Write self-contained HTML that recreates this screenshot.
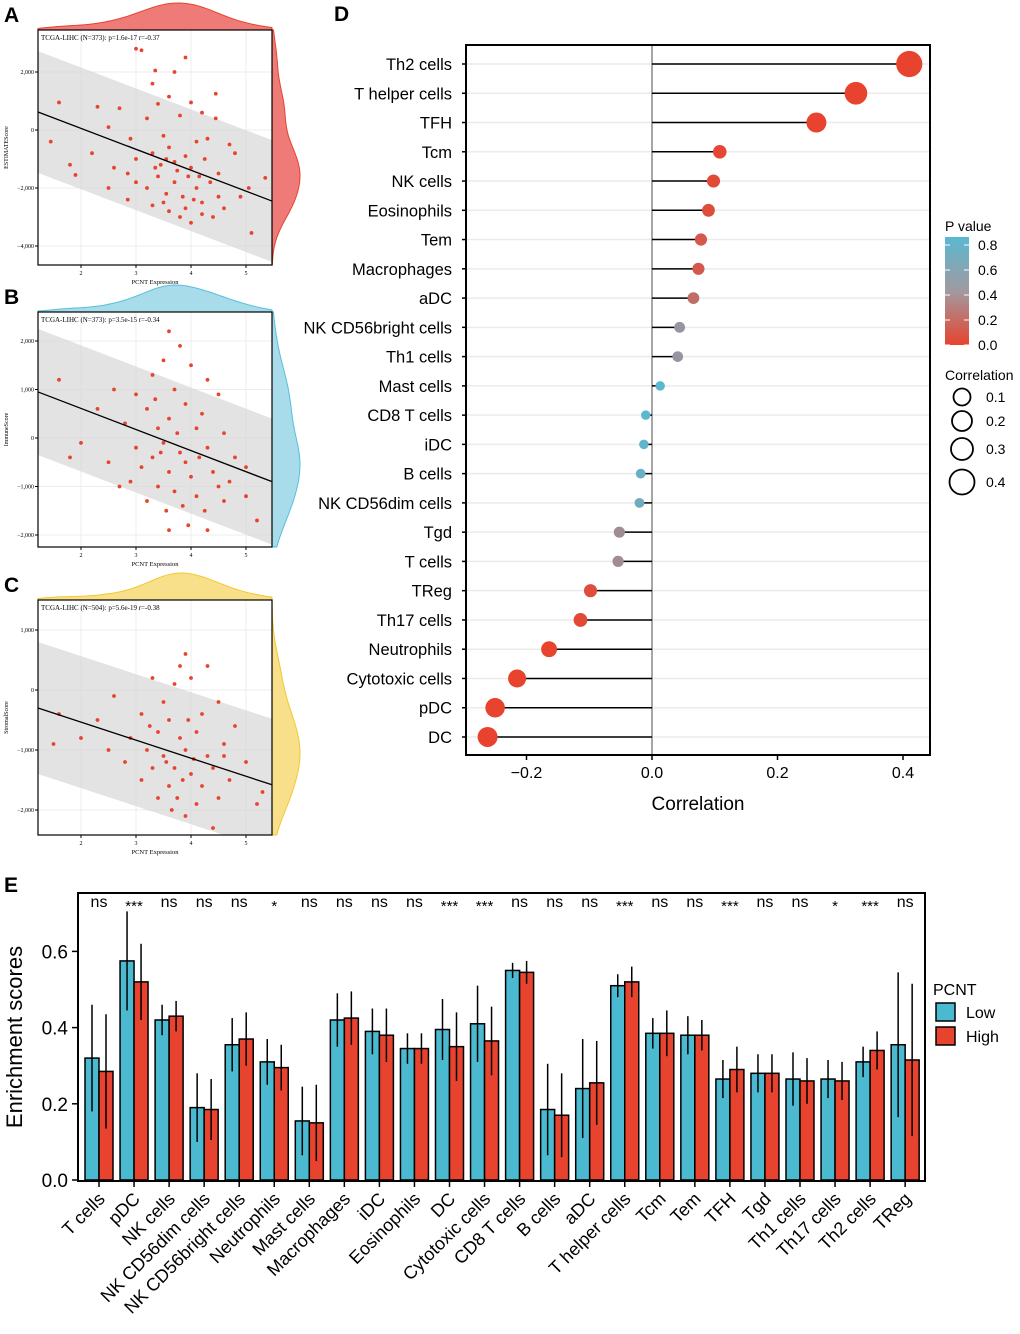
<!DOCTYPE html>
<html><head><meta charset="utf-8"><style>
body{margin:0;background:#fff}
svg{display:block;font-family:"Liberation Sans",Arial,sans-serif}
</style></head><body>
<svg id="s" width="1020" height="1334" viewBox="0 0 1020 1334"></svg>
<script>
// ---------- Data ----------
const scatterA=[[3.0,2.8],[3.1,2.75],[3.9,2.5],[3.35,2.05],[3.7,2.0],[3.3,1.6],[4.45,1.25],[3.6,1.15],[4.0,0.95],[3.4,0.9],[1.6,0.95],[2.3,0.8],[2.7,0.75],[3.2,0.4],[3.8,0.5],[4.2,0.6],[4.45,0.4],[2.5,0.1],[2.9,-0.3],[3.5,-0.2],[3.6,-0.6],[4.1,-0.4],[4.3,-0.3],[4.7,-0.5],[1.45,-0.4],[2.2,-0.8],[2.6,-1.3],[3.0,-1.0],[3.3,-0.8],[3.45,-1.2],[3.7,-1.1],[3.9,-0.9],[4.0,-1.3],[4.25,-1.0],[4.5,-1.5],[4.8,-0.8],[1.8,-1.2],[1.9,-1.55],[2.5,-2.0],[2.85,-1.5],[3.0,-1.8],[3.2,-2.0],[3.4,-1.6],[3.55,-2.2],[3.7,-1.8],[3.85,-2.3],[3.95,-1.6],[4.1,-2.0],[4.2,-2.5],[4.35,-1.8],[4.5,-2.3],[4.6,-2.7],[4.9,-2.3],[5.05,-2.0],[5.35,-1.65],[2.85,-2.4],[3.3,-2.6],[3.6,-2.8],[3.8,-3.0],[4.0,-3.2],[4.2,-2.9],[4.4,-3.0],[5.1,-3.55],[3.5,-2.5],[3.9,-2.7],[4.05,-2.4],[3.75,-1.4],[3.55,-1.0],[4.15,-1.6],[3.35,-1.3]];
const scatterB=[[3.6,2.2],[3.8,1.9],[3.5,1.6],[4.0,1.5],[3.3,1.3],[1.6,1.2],[4.3,1.2],[2.6,1.0],[3.0,0.9],[3.7,1.0],[4.5,0.9],[2.3,0.6],[3.2,0.6],[3.9,0.7],[4.2,0.5],[2.8,0.3],[3.4,0.2],[3.6,0.4],[4.1,0.2],[4.6,0.1],[2.0,-0.1],[3.0,-0.2],[3.5,-0.1],[3.8,-0.3],[4.3,-0.2],[4.8,-0.4],[1.8,-0.4],[2.5,-0.5],[3.1,-0.6],[3.3,-0.4],[3.6,-0.7],[3.9,-0.5],[4.0,-0.8],[4.4,-0.7],[4.7,-0.9],[2.9,-0.9],[3.4,-1.0],[3.7,-1.1],[4.1,-1.2],[4.5,-1.0],[5.0,-0.6],[3.2,-1.3],[3.55,-1.5],[3.85,-1.4],[4.25,-1.5],[3.95,-1.8],[4.6,-1.3],[5.2,-1.7],[3.6,-1.9],[4.3,-1.9],[5.0,-1.2],[3.75,0.1],[3.45,-0.3],[4.15,-0.4],[3.35,0.8],[2.7,-1.0]];
const scatterC=[[3.9,0.6],[3.8,0.4],[4.3,0.4],[3.3,0.2],[3.7,0.1],[4.0,0.2],[2.6,-0.1],[3.5,-0.2],[4.5,-0.2],[1.6,-0.4],[2.3,-0.5],[3.1,-0.4],[3.6,-0.5],[4.2,-0.4],[4.8,-0.6],[2.0,-0.8],[2.9,-0.8],[3.4,-0.7],[3.8,-0.8],[4.1,-0.7],[4.6,-0.9],[1.5,-0.9],[2.5,-1.0],[3.2,-1.0],[3.5,-1.1],[3.9,-1.0],[4.3,-1.1],[5.0,-1.2],[2.8,-1.2],[3.3,-1.3],[3.7,-1.3],[4.0,-1.4],[4.4,-1.3],[4.7,-1.5],[3.1,-1.5],[3.6,-1.6],[3.85,-1.5],[4.2,-1.6],[5.3,-1.7],[3.4,-1.8],[3.75,-1.8],[4.1,-1.9],[4.5,-1.8],[3.9,-2.1],[4.4,-2.3],[3.55,-1.2],[4.05,-1.15],[3.95,-0.5],[3.25,-0.6],[4.6,-1.1],[5.2,-1.9],[3.65,-2.0]];
const fitA=[0.62,-2.45], fitB=[0.95,-0.9], fitC=[-0.3,-1.58];
const bandA=2.1, bandB=1.3, bandC=1.1;

const dCells=["Th2 cells","T helper cells","TFH","Tcm","NK cells","Eosinophils","Tem","Macrophages","aDC","NK CD56bright cells","Th1 cells","Mast cells","CD8 T cells","iDC","B cells","NK CD56dim cells","Tgd","T cells","TReg","Th17 cells","Neutrophils","Cytotoxic cells","pDC","DC"];
const dCorr=[0.41,0.325,0.262,0.108,0.098,0.09,0.078,0.074,0.066,0.044,0.041,0.013,-0.01,-0.013,-0.018,-0.02,-0.052,-0.054,-0.098,-0.114,-0.164,-0.215,-0.25,-0.262];
const dP=[0,0,0,0.02,0.03,0.05,0.1,0.1,0.2,0.4,0.4,0.8,0.8,0.75,0.7,0.65,0.35,0.35,0.05,0.03,0,0,0,0];
const dTicks=[-0.2,0,0.2,0.4];

const eCells=["T cells","pDC","NK cells","NK CD56dim cells","NK CD56bright cells","Neutrophils","Mast cells","Macrophages","iDC","Eosinophils","DC","Cytotoxic cells","CD8 T cells","B cells","aDC","T helper cells","Tcm","Tem","TFH","Tgd","Th1 cells","Th17 cells","Th2 cells","TReg"];
const eLow=[0.32,0.575,0.42,0.19,0.355,0.31,0.155,0.42,0.39,0.345,0.395,0.41,0.55,0.185,0.24,0.51,0.385,0.38,0.265,0.28,0.265,0.265,0.31,0.355];
const eHigh=[0.285,0.52,0.43,0.185,0.37,0.295,0.15,0.425,0.38,0.345,0.35,0.365,0.545,0.17,0.255,0.52,0.385,0.38,0.29,0.28,0.26,0.26,0.34,0.315];
const eLowErr=[0.14,0.13,0.04,0.09,0.07,0.06,0.09,0.07,0.06,0.04,0.08,0.1,0.02,0.12,0.13,0.03,0.04,0.05,0.05,0.05,0.07,0.05,0.04,0.19];
const eHighErr=[0.15,0.1,0.04,0.08,0.07,0.06,0.1,0.07,0.07,0.04,0.09,0.09,0.03,0.11,0.11,0.04,0.06,0.04,0.06,0.05,0.06,0.05,0.05,0.2];
const eSig=["ns","***","ns","ns","ns","*","ns","ns","ns","ns","***","***","ns","ns","ns","***","ns","ns","***","ns","ns","*","***","ns"];
const eTicks=[0,0.2,0.4,0.6];

// ---------- helpers ----------
const S=document.getElementById('s'),NS="http://www.w3.org/2000/svg";
const DEFS=document.createElementNS(NS,'defs');S.appendChild(DEFS);
function mk(tag,at,parent){const e=document.createElementNS(NS,tag);for(const k in at)e.setAttribute(k,at[k]);(parent||S).appendChild(e);return e;}
function tx(str,x,y,size,anchor,parent,extra){const e=mk('text',Object.assign({x:x,y:y,'font-size':size,'text-anchor':anchor||'start',fill:'#000'},extra||{}),parent);e.textContent=str;return e;}
function kde(vals,grid,bw){return grid.map(g=>vals.reduce((s,v)=>s+Math.exp(-0.5*((g-v)/bw)**2),0));}

// ---------- scatter panels ----------
function scatterPanel(o){
  const g=mk('g',{});
  
  
  const L=38,R=272,T=o.top,B=o.top+235;
  const cid='clip'+o.letter;
  const cp=mk('clipPath',{id:cid},DEFS);mk('rect',{x:L,y:T,width:R-L,height:B-T},cp);
  const sx=v=>81+(v-2)*55;
  const sy=v=>o.y0+(-v)*o.ppu;
  const x0=(L-81)/55+2,x1=(R-81)/55+2;
  const lt=tx(o.letter,4,o.top-8,21,'start',g,{'font-weight':'bold'});
  
  const xs=o.pts.map(p=>p[0]),ys=o.pts.map(p=>p[1]);
  const gx=[];for(let v=x0;v<=x1+1e-9;v+=(x1-x0)/60)gx.push(v);
  const dx=kde(xs,gx,0.35),mx=Math.max(...dx);
  let d=`M${L},${T} `+gx.map((v,i)=>`L${sx(v).toFixed(1)},${(T-dx[i]/mx*27).toFixed(1)}`).join(' ')+` L${R},${T}Z`;
  const dt=mk('path',{d:d,fill:o.fill,stroke:o.line,'stroke-width':1},g);
  
  const yMin=-(B-o.y0)/o.ppu,yMax=(o.y0-T)/o.ppu;
  const gy=[];for(let v=yMin;v<=yMax+1e-9;v+=(yMax-yMin)/60)gy.push(v);
  const dy=kde(ys,gy,o.bwy),my=Math.max(...dy);
  d=`M${R},${B} `+gy.map((v,i)=>`L${(R+dy[i]/my*28).toFixed(1)},${sy(v).toFixed(1)}`).join(' ')+` L${R},${T}Z`;
  const dr=mk('path',{d:d,fill:o.fill,stroke:o.line,'stroke-width':1},g);
  
  mk('rect',{x:L,y:T,width:R-L,height:B-T,fill:'#fff'},g);
  const inner=mk('g',{'clip-path':`url(#${cid})`},g);
  [2,3,4,5].forEach(v=>mk('line',{x1:sx(v),x2:sx(v),y1:T,y2:B,stroke:'#ececec','stroke-width':1},inner));
  o.yt.forEach(v=>mk('line',{x1:L,x2:R,y1:sy(v),y2:sy(v),stroke:'#ececec','stroke-width':1},inner));
  const f=x=>o.fit[0]+(o.fit[1]-o.fit[0])*(x-x0)/(x1-x0);
  const band=mk('polygon',{points:`${L},${sy(f(x0)+o.band)} ${R},${sy(f(x1)+o.band)} ${R},${sy(f(x1)-o.band)} ${L},${sy(f(x0)-o.band)}`,fill:'#d9d9d9','fill-opacity':0.75},inner);
  
  o.pts.forEach(p=>{const c=mk('circle',{cx:sx(p[0]),cy:sy(p[1]),r:1.9,fill:'#e8432e'},inner);
    
    });
  const fl=mk('line',{x1:L,y1:sy(f(x0)),x2:R,y2:sy(f(x1)),stroke:'#000','stroke-width':1.3},g);
  
  mk('rect',{x:L,y:T,width:R-L,height:B-T,fill:'none',stroke:'#000','stroke-width':1.2},g);
  const ti=tx(o.title,41,T+10,7,'start',g,{'font-family':'Liberation Serif'});
  
  [2,3,4,5].forEach(v=>{mk('line',{x1:sx(v),x2:sx(v),y1:B,y2:B+3,stroke:'#000'},g);tx(String(v),sx(v),B+10,6,'middle',g,{'font-family':'Liberation Serif'});});
  o.yt.forEach(v=>{mk('line',{x1:L-3,x2:L,y1:sy(v),y2:sy(v),stroke:'#000'},g);
    tx(v===0?'0':(v<0?'−':'')+Math.abs(v*1000).toLocaleString('en-US'),L-4,sy(v)+2,6,'end',g,{'font-family':'Liberation Serif'});});
  const xl=tx('PCNT Expression',155,B+19,6.5,'middle',g,{'font-family':'Liberation Serif'});
  
  const yl=tx(o.ylab,8,(T+B)/2,6,'middle',g,{'font-family':'Liberation Serif',transform:`rotate(-90 8 ${(T+B)/2})`});
  
}
scatterPanel({name:'panel-a-estimate-scatter',letter:'A',top:30,y0:130,ppu:29,pts:scatterA,fit:fitA,band:bandA,yt:[2,0,-2,-4],bwy:0.6,fill:'#ee7b78',line:'#e8432e',title:'TCGA-LIHC (N=373): p=1.6e-17 r=-0.37',ylab:'ESTIMATEScore'});
scatterPanel({name:'panel-b-immune-scatter',letter:'B',top:312,y0:438,ppu:48.5,pts:scatterB,fit:fitB,band:bandB,yt:[2,1,0,-1,-2],bwy:0.45,fill:'#a9dcea',line:'#56bfdc',title:'TCGA-LIHC (N=373): p=3.5e-15 r=-0.34',ylab:'ImmuneScore'});
scatterPanel({name:'panel-c-stromal-scatter',letter:'C',top:600,y0:690,ppu:60,pts:scatterC,fit:fitC,band:bandC,yt:[1,0,-1,-2],bwy:0.35,fill:'#f8e08a',line:'#f2c82f',title:'TCGA-LIHC (N=504): p=5.6e-19 r=-0.38',ylab:'StromalScore'});

// ---------- panel D ----------
(function(){
  const g=mk('g',{});
  
  
  const lt=tx('D',334,21,21,'start',g,{'font-weight':'bold'});
  
  const L=466,R=930,T=45,B=755;
  const sx=v=>652+v*627.5, sy=i=>64+i*29.26;
  const col=p=>{const t=Math.min(p/0.8,1);const a=[232,67,46],b=[91,184,208],m=[150,150,160];
    let c; if(t<0.5){const u=t/0.5;c=a.map((v,k)=>v+(m[k]-v)*u);}else{const u=(t-0.5)/0.5;c=m.map((v,k)=>v+(b[k]-v)*u);}
    return `rgb(${c.map(Math.round).join(',')})`;};
  dCells.forEach((c,i)=>mk('line',{x1:L,x2:R,y1:sy(i),y2:sy(i),stroke:'#ebebeb','stroke-width':1.5},g));
  mk('line',{x1:sx(0),x2:sx(0),y1:T,y2:B,stroke:'#888','stroke-width':1.5},g);
  dCells.forEach((c,i)=>{
    const st=mk('line',{x1:sx(0),x2:sx(dCorr[i]),y1:sy(i),y2:sy(i),stroke:'#000','stroke-width':1.5},g);
    
    
    const pt=mk('circle',{cx:sx(dCorr[i]),cy:sy(i),r:4.5+21*Math.abs(dCorr[i]),fill:col(dP[i])},g);
    
    
    mk('line',{x1:L-4,x2:L,y1:sy(i),y2:sy(i),stroke:'#000','stroke-width':1.5},g);
    const lb=tx(c,452,sy(i)+6,16.5,'end',g);
    
    
  });
  mk('rect',{x:L,y:T,width:R-L,height:B-T,fill:'none',stroke:'#000','stroke-width':2},g);
  dTicks.forEach(v=>{mk('line',{x1:sx(v),x2:sx(v),y1:B,y2:B+5,stroke:'#000','stroke-width':1.5},g);
    tx(v===0?'0.0':(v<0?'−':'')+Math.abs(v).toFixed(1),sx(v),B+23,16,'middle',g);});
  const xl=tx('Correlation',698,810,19,'middle',g);
  
  const lg=mk('g',{},g);
  
  tx('P value',945,231,14,'start',lg);
  const gr=mk('linearGradient',{id:'pg',x1:0,y1:1,x2:0,y2:0},DEFS);
  mk('stop',{offset:0,'stop-color':'#e8432e'},gr);mk('stop',{offset:0.5,'stop-color':'#a09aa0'},gr);mk('stop',{offset:1,'stop-color':'#5bb8d0'},gr);
  mk('rect',{x:945,y:237,width:24,height:108,fill:'url(#pg)'},lg);
  [0,0.2,0.4,0.6,0.8].forEach(v=>{const y=345-v/0.8*100;
    mk('line',{x1:945,x2:950,y1:y,y2:y,stroke:'#fff','stroke-width':1},lg);mk('line',{x1:964,x2:969,y1:y,y2:y,stroke:'#fff','stroke-width':1},lg);
    tx(v.toFixed(1),978,y+5,14,'start',lg);});
  const cg=mk('g',{},g);
  
  tx('Correlation',945,380,14,'start',cg);
  [[0.1,397,8.5],[0.2,421,10],[0.3,449,11],[0.4,482,12.5]].forEach(a=>{
    mk('circle',{cx:962,cy:a[1],r:a[2],fill:'none',stroke:'#000','stroke-width':1.8},cg);
    tx(a[0].toFixed(1),986,a[1]+5,14,'start',cg);});
})();

// ---------- panel E ----------
(function(){
  const g=mk('g',{});
  
  
  const lt=tx('E',4,892,21,'start',g,{'font-weight':'bold'});
  
  const L=78,R=925,T=893,B=1181;
  const cx=i=>99+i*35.05, sy=v=>1180-v*381;
  eCells.forEach((c,i)=>{
    [[eLow,eLowErr,-7,'#4bbad0','bar-low'],[eHigh,eHighErr,7,'#e8432e','bar-high']].forEach(s=>{
      const x=cx(i)+s[2];
      const b=mk('rect',{x:x-7,y:sy(s[0][i]),width:14,height:sy(0)-sy(s[0][i]),fill:s[3],stroke:'#000','stroke-width':1.5},g);
      
      
      const e=mk('line',{x1:x,x2:x,y1:sy(s[0][i]+s[1][i]),y2:sy(Math.max(0,s[0][i]-s[1][i])),stroke:'#000','stroke-width':1.5},g);
      
      
    });
    const sg=tx(eSig[i],cx(i),eSig[i]==='ns'?907:911,eSig[i]==='ns'?16:15,'middle',g);
    
    
    mk('line',{x1:cx(i),x2:cx(i),y1:B,y2:B+6,stroke:'#000','stroke-width':1.5},g);
    const lb=tx(c,cx(i)+7,1200,18,'end',g,{transform:`rotate(-45 ${cx(i)+7} 1200)`});
    
    
  });
  mk('rect',{x:L,y:T,width:R-L,height:B-T,fill:'none',stroke:'#000','stroke-width':2},g);
  eTicks.forEach(v=>{mk('line',{x1:L-6,x2:L,y1:sy(v),y2:sy(v),stroke:'#000','stroke-width':1.5},g);
    tx(v.toFixed(1),L-10,sy(v)+7,19,'end',g);});
  const yl=tx('Enrichment scores',22,1037,22,'middle',g,{transform:'rotate(-90 22 1037)'});
  
  const lg=mk('g',{},g);
  
  tx('PCNT',933,995,16,'start',lg);
  mk('rect',{x:936,y:1003,width:19,height:18,fill:'#4bbad0',stroke:'#000','stroke-width':1.5},lg);
  mk('rect',{x:936,y:1027,width:19,height:18,fill:'#e8432e',stroke:'#000','stroke-width':1.5},lg);
  tx('Low',966,1018,16,'start',lg);tx('High',966,1042,16,'start',lg);
})();
</script>
</body></html>
